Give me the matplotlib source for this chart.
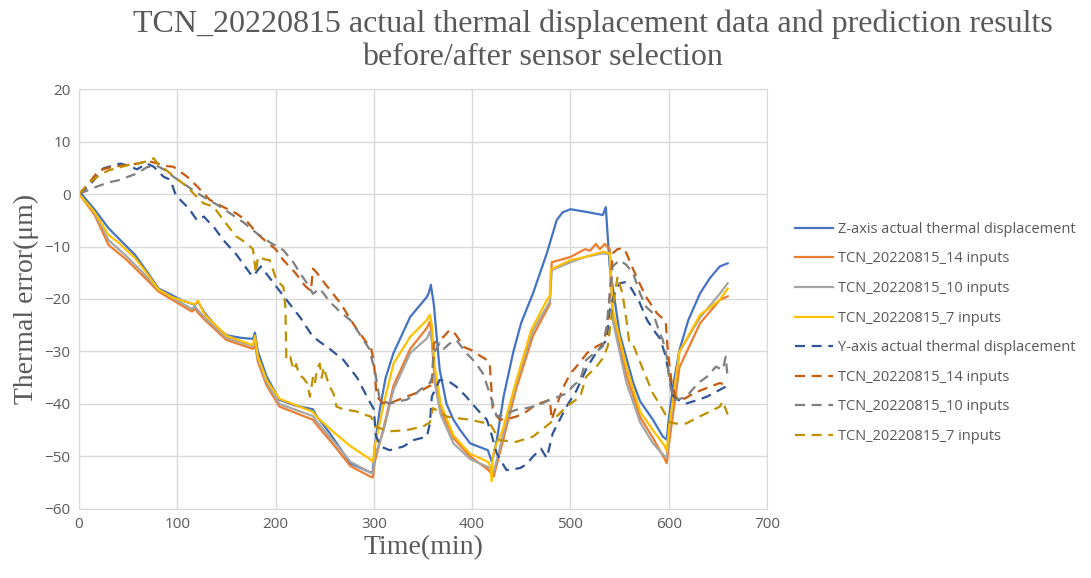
import matplotlib
matplotlib.use("Agg")
import matplotlib.pyplot as plt

# (time in min, error in um)
z_actual = [(0, 0), (3, -0.1), (16, -3), (30, -6.5), (40, -8.4), (57, -11.6), (67, -14.2), (81, -18), (94, -19.2),
            (105, -20.3), (118, -21.1), (121, -20.5), (128, -22.7), (140, -25.3), (150, -26.9), (165, -27.4),
            (177, -27.6), (179, -26.4), (182, -30), (191, -34.8), (204, -39.2), (220, -40.3), (238, -41),
            (242, -42.4), (255, -45.5), (276, -51.3), (296, -53), (299, -52.9), (301, -48), (306, -41.1),
            (312, -35), (320, -30.3), (337, -23.4), (354, -19.6), (356, -18.8), (358, -17.3), (361, -21),
            (367, -33.5), (374, -40), (381, -43), (388, -45), (398, -47.5), (416, -48.8), (420, -51), (425, -47),
            (432, -38.6), (442, -30), (450, -24.5), (462, -18.9), (476, -11.3), (486, -5), (492, -3.5), (500, -2.9),
            (516, -3.4), (533, -4), (536, -2.5), (540, -13.8), (550, -26.5), (564, -36), (571, -39.5), (584, -43),
            (594, -46.2), (598, -46.8), (600, -43), (605, -36), (611, -29.7), (620, -24), (632, -18.9), (642, -16),
            (652, -13.8), (660, -13.2)]

z_pred_14 = [(0, 0), (16, -4), (30, -9.7), (47, -12.3), (64, -15.4), (81, -18.6), (98, -20.5), (115, -22.4),
             (118, -21.9), (121, -22.6), (128, -24), (150, -27.8), (177, -29.5), (179, -28.5), (182, -32),
             (191, -36.5), (204, -40.5), (238, -43), (242, -44), (260, -48), (276, -51.8), (296, -53.8), (299, -54),
             (301, -51), (310, -44.5), (320, -36.5), (337, -29.5), (354, -25.5), (357, -24.3), (359, -27), (362, -35),
             (368, -41), (381, -46.5), (398, -50), (416, -52.5), (420, -53.3), (422, -53.8), (430, -48), (445, -37),
             (462, -27), (479, -21), (481, -13), (500, -12), (515, -10.5), (520, -10.8), (526, -9.5), (530, -10.5),
             (535, -9.5), (540, -10.5), (543, -23), (557, -34.5), (571, -42.5), (584, -46.5), (596, -50.5),
             (598, -51.3), (600, -48), (611, -33), (632, -24.6), (652, -20.2), (660, -19.5)]

z_pred_10 = [(0, 0), (16, -3.6), (30, -8.8), (47, -11.6), (64, -14.8), (81, -18.2), (98, -20.1), (115, -21.9),
             (118, -21.4), (121, -22.1), (128, -23.6), (150, -27.4), (177, -29), (179, -27.6), (182, -31.5),
             (191, -36), (204, -40), (238, -42.3), (242, -43.4), (260, -47.3), (276, -51), (296, -53), (299, -53.2),
             (301, -50), (310, -45), (320, -37.3), (337, -30.3), (354, -27.5), (357, -26.2), (359, -28), (362, -36),
             (368, -42), (381, -47.5), (398, -50.5), (416, -52), (420, -52.6), (422, -53), (430, -47), (445, -36),
             (462, -26), (479, -20.5), (481, -14.5), (500, -13), (515, -12), (533, -11.3), (540, -11.5), (543, -24),
             (557, -36), (571, -43.5), (584, -47.5), (596, -50), (598, -50.1), (600, -46), (611, -30), (632, -23.5),
             (652, -19), (658, -17.5), (660, -17)]

z_pred_7 = [(0, 0), (16, -3.5), (30, -7.8), (40, -9.2), (57, -12.2), (67, -14.6), (81, -18.2), (94, -19.6),
            (108, -20.5), (118, -21), (121, -20.3), (128, -23), (150, -27), (177, -28.8), (179, -27), (182, -31),
            (191, -35.5), (204, -39), (238, -41.5), (242, -42.5), (260, -45.5), (276, -48), (296, -50.5), (299, -51),
            (301, -48), (310, -40), (320, -32.3), (337, -27.2), (354, -24), (357, -23), (359, -25), (362, -33),
            (368, -40), (381, -46), (398, -49.5), (416, -51), (419, -52), (420, -54.7), (421, -50), (424, -48),
            (431, -45), (445, -35.5), (460, -26), (476, -20.2), (479, -19.5), (480, -14.5), (482, -14.2),
            (500, -12.6), (515, -12), (533, -11), (540, -11.3), (543, -22), (557, -32.9), (571, -41.5), (584, -45),
            (596, -48), (598, -49), (600, -45), (611, -30), (632, -23), (652, -20.2), (660, -18)]

y_actual = [(0, 0), (11, 1.7), (25, 4.9), (42, 5.8), (50, 5.4), (59, 4.7), (69, 5.8), (76, 5.2), (86, 3.3),
            (93, 2.7), (99, -0.5), (103, -1.1), (112, -2.8), (120, -5), (127, -4.3), (138, -6.5), (147, -8.8),
            (160, -11.5), (174, -15.1), (177, -15.7), (185, -13.8), (192, -15.5), (201, -17.7), (210, -19.9),
            (225, -23.5), (238, -27.2), (255, -29.5), (269, -31.6), (283, -35), (293, -38.6), (297, -40), (300, -41),
            (302, -46), (307, -48.1), (316, -48.8), (330, -48.1), (340, -46.9), (354, -46.2), (357, -43.7),
            (359, -38.6), (367, -35.4), (377, -35.8), (384, -36.7), (394, -38.6), (405, -41), (415, -43), (420, -46),
            (425, -49.4), (435, -52.6), (449, -52.2), (455, -51.5), (462, -50), (470, -48.5), (476, -50.3),
            (482, -45.6), (496, -40.5), (506, -37.5), (517, -33), (527, -30), (537, -27.8), (540, -22.1),
            (545, -19), (550, -17), (556, -16.8), (561, -17.7), (570, -20.5), (578, -24), (585, -26), (591, -27.5),
            (596, -30.3), (601, -34.8), (605, -38.6), (612, -39.5), (618, -39.9), (630, -39.2), (639, -38.6),
            (652, -37.3), (660, -36.5)]

y_pred_14 = [(0, 0), (10, 2), (20, 4.5), (30, 5), (40, 5.3), (50, 5.6), (60, 5.8), (70, 6.3), (80, 5.8), (90, 5.3),
             (96, 5.2), (110, 3.3), (120, 1.5), (133, -1.1), (145, -2.3), (160, -3.7), (170, -5), (181, -7.5),
             (190, -9), (200, -10.5), (208, -12.6), (220, -15), (230, -17.5), (236, -18.5), (238, -14.2),
             (242, -15), (250, -17), (266, -20.8), (280, -25), (293, -28.4), (297, -29.1), (300, -32), (303, -38.6),
             (309, -39.8), (316, -39.9), (325, -39.2), (333, -38.6), (342, -38), (350, -37.3), (357, -36.5),
             (359, -37), (361, -28.4), (371, -27.2), (377, -25.9), (381, -26.2), (386, -27.5), (391, -29.1),
             (400, -29.8), (408, -30.8), (415, -31.6), (418, -32.5), (421, -41.1), (428, -43), (437, -42.8),
             (445, -42.4), (455, -41.5), (462, -40.5), (470, -39.8), (479, -39.2), (481, -43), (483, -41.8),
             (493, -36.7), (500, -34.2), (506, -32.9), (517, -30.3), (527, -29), (533, -28.4), (537, -26),
             (539, -22.1), (543, -11.3), (548, -10.5), (554, -10.3), (557, -11.3), (567, -15.7), (577, -19.6),
             (588, -22.7), (597, -24.3), (599, -29.7), (603, -36), (607, -38.6), (612, -39.3), (618, -38.8),
             (625, -38), (638, -37), (652, -36), (660, -36.5)]

y_pred_10 = [(0, 0), (10, 0.8), (18, 1.4), (30, 2.2), (42, 2.7), (50, 3.3), (59, 3.9), (69, 5.1), (79, 5.4),
             (88, 4.5), (96, 3.3), (110, 1.5), (126, -0.5), (140, -2), (154, -3.7), (168, -5.5), (181, -7.5),
             (195, -9.3), (208, -10.7), (218, -13), (225, -15.1), (232, -17), (238, -19), (245, -18), (255, -20.5),
             (266, -22.5), (276, -24), (286, -26.8), (296, -29.7), (298, -31.6), (301, -33.5), (306, -39.2),
             (316, -39.9), (325, -39.5), (333, -39.2), (340, -38.5), (347, -37.3), (357, -36), (359, -35),
             (361, -30.3), (367, -28.4), (371, -29.5), (377, -28.5), (384, -27.8), (394, -30.3), (403, -32),
             (411, -34.2), (418, -38), (425, -42.4), (435, -41.8), (445, -41.1), (455, -40.8), (462, -40.5),
             (470, -40), (479, -39.2), (488, -38.6), (496, -38), (503, -36.5), (510, -35.4), (516, -31.6),
             (525, -30.2), (533, -29), (537, -25), (539, -21), (543, -13.8), (550, -12.6), (557, -13.5),
             (564, -15.2), (571, -19), (577, -21.5), (584, -22.7), (591, -26.5), (594, -27.8), (598, -31), (601, -36),
             (605, -39.2), (612, -39), (618, -38.6), (630, -36), (639, -34.8), (648, -32.9), (655, -33.5),
             (658, -31), (660, -35)]

y_pred_7 = [(0, 0), (10, 2), (20, 3.5), (30, 4.5), (40, 5), (50, 5.5), (60, 5.8), (70, 6.3), (76, 6.8), (80, 5.8),
            (86, 5), (93, 3.9), (101, 2.7), (110, 1.4), (118, -0.2), (127, -1.8), (137, -2.4), (147, -5),
            (160, -8.1), (166, -8.8), (174, -10), (177, -10.5), (180, -15.1), (182, -12), (190, -12.5),
            (194, -12.6), (201, -16.4), (208, -17.7), (210, -21.5), (211, -31.6), (215, -31), (218, -33.5),
            (221, -32.4), (224, -34.5), (228, -35), (232, -36), (235, -38.6), (238, -35), (240, -36.2),
            (242, -33.5), (245, -32.3), (247, -35), (249, -33), (252, -35), (255, -36.7), (259, -38), (262, -40.5),
            (269, -41), (282, -41.4), (290, -42), (297, -42.4), (301, -44.3), (316, -45.2), (333, -45), (350, -44.3),
            (357, -43.5), (360, -40.8), (367, -41.5), (374, -42.4), (385, -42.7), (398, -43), (410, -43.5),
            (418, -43.7), (428, -46.9), (445, -47.2), (462, -46.2), (479, -43.7), (496, -40.5), (510, -38.6),
            (516, -34.8), (526, -33), (533, -31.3), (538, -29), (543, -21.5), (548, -15.7), (553, -19), (557, -24),
            (560, -28.4), (564, -28.8), (574, -33.5), (584, -38), (594, -41.1), (601, -43.5), (610, -43.8),
            (618, -43.7), (630, -42.5), (638, -41.8), (652, -40.5), (655, -39.5), (660, -42)]

labels = ["Z-axis actual thermal displacement", "TCN_20220815_14 inputs", "TCN_20220815_10 inputs",
          "TCN_20220815_7 inputs", "Y-axis actual thermal displacement", "TCN_20220815_14 inputs",
          "TCN_20220815_10 inputs", "TCN_20220815_7 inputs"]
series = [z_actual, z_pred_14, z_pred_10, z_pred_7, y_actual, y_pred_14, y_pred_10, y_pred_7]
colors = ["#4472C4", "#ED7D31", "#A5A5A5", "#FFC000", "#2F5597", "#C55A11", "#7F7F7F", "#BF9000"]
styles = ["solid"] * 4 + ["dashed"] * 4

fig = plt.figure(figsize=(10.91, 5.78), dpi=100)
ax = fig.add_axes([0.0724, 0.1194, 0.6306, 0.7266])

for data, lab, c, ls in zip(series, labels, colors, styles):
    t = [p[0] for p in data]
    v = [p[1] for p in data]
    if ls == "solid":
        ax.plot(t, v, color=c, lw=1.6, label=lab)
    else:
        ax.plot(t, v, color=c, lw=1.6, dashes=(4.5, 3), label=lab)

ax.set_xlim(0, 700)
ax.set_ylim(-60, 20)
ax.set_xticks(range(0, 701, 100))
ax.set_yticks(range(-60, 21, 10))
ax.grid(True, color="#D9D9D9", lw=1)
ax.set_axisbelow(True)
for s in ax.spines.values():
    s.set_color("#D9D9D9")
ax.tick_params(length=0, labelsize=11, labelcolor="#595959", pad=6)
for lbl in ax.get_xticklabels() + ax.get_yticklabels():
    lbl.set_family("Open Sans")

serif = "Liberation Serif"
ax.set_xlabel("Time(min)", family=serif, fontsize=20, color="#595959", labelpad=2)
ax.set_ylabel("Thermal error(\u03bcm)", family=serif, fontsize=20, color="#595959", labelpad=4)

fig.text(0.543, 0.958, "TCN_20220815 actual thermal displacement data and prediction results",
         family=serif, fontsize=23, color="#595959", ha="center", va="center")
fig.text(0.497, 0.900, "before/after sensor selection",
         family=serif, fontsize=23, color="#595959", ha="center", va="center")

leg = fig.legend(loc="center left", bbox_to_anchor=(0.729, 0.424), frameon=False,
                 prop={"family": "Open Sans", "size": 10.5}, handlelength=2.6, handletextpad=0.3,
                 labelspacing=1.0, borderpad=0, borderaxespad=0)
for txt in leg.get_texts():
    txt.set_color("#595959")

fig.savefig("out.png", dpi=100)
